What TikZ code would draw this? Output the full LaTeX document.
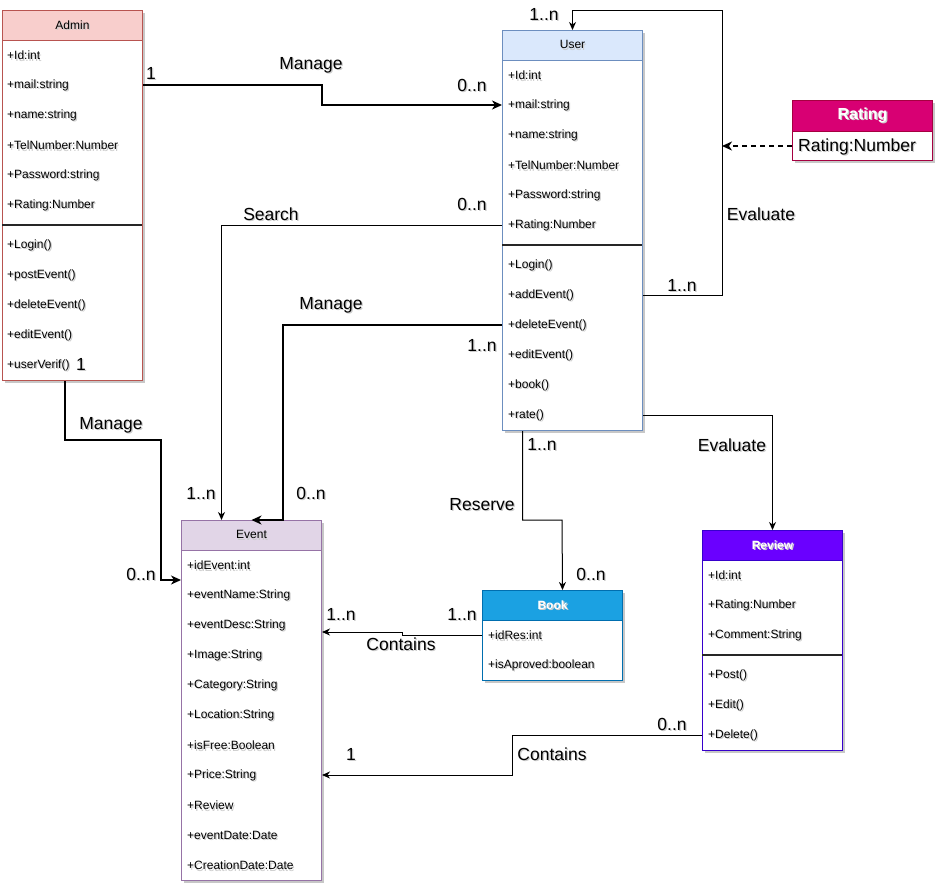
\documentclass[tikz,border=0pt]{standalone}
\usepackage{fontspec}
\setmainfont{Liberation Sans}
\usetikzlibrary{arrows.meta,shadows}

\definecolor{admFill}{HTML}{F8CECC}\definecolor{admLine}{HTML}{B85450}
\definecolor{usrFill}{HTML}{DAE8FC}\definecolor{usrLine}{HTML}{6C8EBF}
\definecolor{evFill}{HTML}{E1D5E7}\definecolor{evLine}{HTML}{9673A6}
\definecolor{bkFill}{HTML}{1BA1E2}\definecolor{bkLine}{HTML}{006EAF}
\definecolor{rvFill}{HTML}{6A00FF}\definecolor{rvLine}{HTML}{3700CC}
\definecolor{rtFill}{HTML}{D80073}\definecolor{rtLine}{HTML}{A50040}

% text with a soft offset shadow
\newcommand\shd[1]{\rlap{\kern1.2pt\raisebox{-1.3pt}{\textcolor{black!20}{#1}}}#1}

\tikzset{
  cls/.style={draw=#1, fill=white, line width=1pt, minimum width=140pt,
    inner sep=0pt, anchor=north west,
    drop shadow={shadow xshift=2.5pt, shadow yshift=-2.5pt, opacity=0.22, fill=black}},
  hdr/.style 2 args={draw=#2, fill=#1, line width=1pt, minimum width=140pt,
    minimum height=30pt, inner sep=0pt, anchor=north west,
    font=\fontsize{12}{14}\selectfont},
  attr/.style={anchor=west, inner sep=0pt, yshift=-1.2pt, font=\fontsize{12}{14}\selectfont},
  lbl/.style={inner sep=0pt, font=\fontsize{17.5}{20}\selectfont},
  sepline/.style={line width=2pt, draw=black!85},
  edge/.style={line width=1pt, -{Stealth[length=8pt,width=7pt,inset=2.5pt]}},
  bedge/.style={line width=2pt, -{Stealth[length=10pt,width=9pt,inset=3pt]}},
  dedge/.style={line width=2pt, dash pattern=on 5pt off 4pt,
    -{Stealth[length=10pt,width=9pt,inset=3pt]}},
}

\begin{document}
\begin{tikzpicture}[x=1pt,y=-1pt]
\fill[white] (0,0) rectangle (944,892);
\useasboundingbox (0,0) rectangle (944,892);

% ---------- Admin ----------
\node[cls=admLine, minimum height=370pt] (admin) at (2,10) {};
\node[hdr={admFill}{admLine}] (adminH) at (2,10) {\shd{Admin}};
\foreach \t [count=\i] in {+Id:int,+mail:string,+name:string,+TelNumber:Number,+Password:string,+Rating:Number}
  \node[attr] (adm-\i) at (7,25+30*\i) {\shd{\t}};
\draw[sepline] (2,225) -- (142,225);
\foreach \t [count=\i] in {+Login(),+postEvent(),+deleteEvent(),+editEvent(),+userVerif()}
  \node[attr] (admm-\i) at (7,215+30*\i) {\shd{\t}};

% ---------- User ----------
\node[cls=usrLine, minimum height=400pt] (user) at (502,30) {};
\node[hdr={usrFill}{usrLine}] (userH) at (502,30) {\shd{User}};
\foreach \t [count=\i] in {+Id:int,+mail:string,+name:string,+TelNumber:Number,+Password:string,+Rating:Number}
  \node[attr] (usr-\i) at (508,45+30*\i) {\shd{\t}};
\draw[sepline] (502,245) -- (642,245);
\foreach \t [count=\i] in {+Login(),+addEvent(),+deleteEvent(),+editEvent(),+book(),+rate()}
  \node[attr] (usm-\i) at (508,235+30*\i) {\shd{\t}};

% ---------- Rating ----------
\node[cls=rtLine, minimum height=60pt] (rating) at (792,100) {};
\node[hdr={rtFill}{rtLine}, minimum height=31pt, text=white,
  font=\fontsize{16}{19}\selectfont\bfseries] (ratingH) at (792,100) {\shd{Rating}};
\node[attr, font=\fontsize{17.5}{20}\selectfont] (rat-1) at (798,146) {\shd{Rating:Number}};

% ---------- Event ----------
\node[cls=evLine, minimum height=360pt] (event) at (181,520) {};
\node[hdr={evFill}{evLine}] (eventH) at (181,520) {\shd{Event}};
\foreach \t [count=\i] in {+idEvent:int,+eventName:String,+eventDesc:String,+Image:String,+Category:String,+Location:String,+isFree:Boolean,+Price:String,+Review,+eventDate:Date,+CreationDate:Date}
  \node[attr] (ev-\i) at (187,535+30*\i) {\shd{\t}};

% ---------- Book ----------
\node[cls=bkLine, minimum height=90pt] (book) at (482,590) {};
\node[hdr={bkFill}{bkLine}, text=white, font=\fontsize{12}{14}\selectfont\bfseries] (bookH) at (482,590) {\shd{Book}};
\foreach \t [count=\i] in {+idRes:int,+isAproved:boolean}
  \node[attr] (bk-\i) at (488,605+30*\i) {\shd{\t}};

% ---------- Review ----------
\node[cls=rvLine, minimum height=220pt] (review) at (702,530) {};
\node[hdr={rvFill}{rvLine}, text=white, font=\fontsize{12}{14}\selectfont\bfseries] (reviewH) at (702,530) {\shd{Review}};
\foreach \t [count=\i] in {+Id:int,+Rating:Number,+Comment:String}
  \node[attr] (rv-\i) at (708,545+30*\i) {\shd{\t}};
\draw[sepline] (702,655) -- (842,655);
\foreach \t [count=\i] in {+Post(),+Edit(),+Delete()}
  \node[attr] (rvm-\i) at (708,645+30*\i) {\shd{\t}};

% ---------- connectors ----------
% Admin manages users
\draw[bedge] (admin.east |- 0,85) -- (322,85) |- (user.west |- 0,105);
% user evaluates user (self loop)
\draw[edge] (user.east |- 0,295) -- (722,295) -- (722,10) -| (user.north);
\coordinate (loopR) at (722,146);
\draw[dedge] (rating.west |- 0,146) -- (loopR);
% user searches events
\draw[edge] (user.west |- 0,225) -| ([xshift=-30pt]event.north);
% user manages events
\draw[bedge] (user.west |- 0,325) -| ([xshift=31pt]event.north) -- (event.north);
% admin manages events
\draw[bedge] ([xshift=-8pt]admin.south) |- (161,440) |- ([yshift=-60pt]event.north west);
% user reserves a booking
\draw[edge] ([xshift=-50pt]user.south) |- (562,520) -- ([xshift=10pt]book.north);
% user writes reviews
\draw[edge] (user.east |- 0,415) -| (review.north);
% event contains bookings
\draw[edge] (book.west |- 0,635) -- (402,635) -- (402,632) -- (event.east |- 0,632);
% event contains reviews
\draw[edge] (review.west |- 0,735) -| (512,775) -- (event.east |- 0,775);

% ---------- labels ----------
\node[lbl] (l1)  at (151,74)  {\shd{1}};
\node[lbl] (l2)  at (311,66)  {\shd{Manage}};
\node[lbl] (l3)  at (472,86)  {\shd{0..n}};
\node[lbl] (l4)  at (544,15)  {\shd{1..n}};
\node[lbl] (l5)  at (682,286) {\shd{1..n}};
\node[lbl] (l6)  at (761,215) {\shd{Evaluate}};
\node[lbl] (l7)  at (271,215) {\shd{Search}};
\node[lbl] (l8)  at (472,205) {\shd{0..n}};
\node[lbl] (l9)  at (201,494) {\shd{1..n}};
\node[lbl] (l10) at (331,306) {\shd{Manage}};
\node[lbl] (l11) at (482,346) {\shd{1..n}};
\node[lbl] (l12) at (311,494) {\shd{0..n}};
\node[lbl] (l13) at (111,426) {\shd{Manage}};
\node[lbl] (l14) at (141,575) {\shd{0..n}};
\node[lbl] (l15) at (81,365)  {\shd{1}};
\node[lbl] (l16) at (542,445) {\shd{1..n}};
\node[lbl] (l17) at (482,505) {\shd{Reserve}};
\node[lbl] (l18) at (591,575) {\shd{0..n}};
\node[lbl] (l19) at (732,446) {\shd{Evaluate}};
\node[lbl] (l20) at (401,645) {\shd{Contains}};
\node[lbl] (l21) at (341,615) {\shd{1..n}};
\node[lbl] (l22) at (462,615) {\shd{1..n}};
\node[lbl] (l23) at (552,755) {\shd{Contains}};
\node[lbl] (l24) at (672,725) {\shd{0..n}};
\node[lbl] (l25) at (351,755) {\shd{1}};
\end{tikzpicture}
\end{document}
